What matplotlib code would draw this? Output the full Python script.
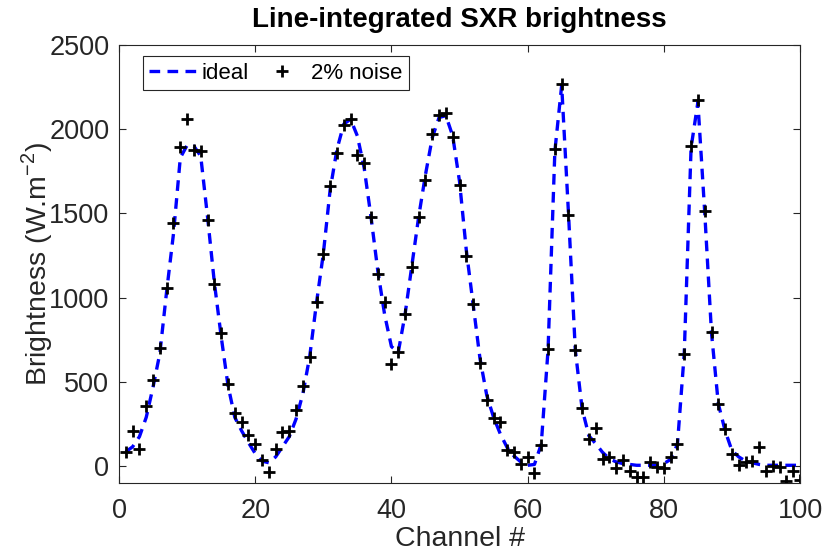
import numpy as np
import matplotlib
matplotlib.use("Agg")
import matplotlib.pyplot as plt

plt.rcParams["font.family"] = ["Liberation Sans", "DejaVu Sans"]
plt.rcParams["mathtext.fontset"] = "custom"
plt.rcParams["mathtext.rm"] = "Liberation Sans"

channels = np.arange(1, 101)

# ideal line-integrated brightness
ideal = [
    85, 115, 175, 290, 470, 670, 1040, 1380, 1830, 1905,
    1900, 1840, 1480, 1090, 770, 480, 290, 210, 140, 75,
    30, 20, 55, 115, 175, 280, 430, 650, 970, 1260,
    1640, 1880, 2030, 2060, 1960, 1770, 1480, 1160, 900, 710,
    675, 900, 1190, 1480, 1730, 1950, 2070, 2080, 1960, 1690,
    1280, 960, 640, 420, 290, 190, 110, 60, 25, 5,
    10, 130, 690, 1870, 2260, 1500, 690, 340, 180, 133,
    82, 44, 25, 15, 10, 5, 5, 5, 5, 15,
    40, 130, 670, 1890, 2160, 1510, 790, 370, 210, 92,
    55, 30, 20, 10, 5, 5, 5, 5, 5, 5,
]

# same channels with 2% noise added
noisy = [
    85, 208, 101, 356, 511, 699, 1059, 1445, 1896, 2060,
    1876, 1872, 1461, 1079, 792, 485, 313, 263, 184, 131,
    36, -34, 101, 200, 208, 332, 475, 649, 972, 1257,
    1663, 1857, 2028, 2059, 1847, 1801, 1477, 1140, 972, 604,
    675, 901, 1184, 1477, 1698, 1970, 2084, 2094, 1952, 1669,
    1247, 960, 610, 392, 283, 263, 95, 85, 10, 55,
    -43, 125, 693, 1880, 2267, 1490, 692, 344, 164, 226,
    42, 52, -11, 38, -31, -66, -66, 22, -7, -11,
    56, 131, 666, 1899, 2173, 1513, 796, 371, 220, 72,
    9, 22, 28, 111, -31, 3, -7, -90, -27, -82,
]

fig = plt.figure(figsize=(8.23, 5.59), dpi=100)
ax = fig.add_axes([0.1446, 0.136, 0.8275, 0.7835])

ax.plot(channels, ideal, color="#0000ff", linestyle=(0, (3.2, 2.2)),
        linewidth=2.4, label="ideal")
ax.plot(channels, noisy, linestyle="none", marker="+", color="black",
        markersize=8, markeredgewidth=2.0, label="2% noise")

ax.set_xlim(0, 100)
ax.set_ylim(-100, 2500)
ax.set_xticks(np.arange(0, 101, 20))
ax.set_yticks(np.arange(0, 2501, 500))

ax.tick_params(direction="in", top=True, right=True, labelsize=19.5,
               length=5, width=0.8, colors="#262626", pad=7)
ax.tick_params(axis="x", pad=11)
for sp in ax.spines.values():
    sp.set_color("#262626")
    sp.set_linewidth(0.8)

ax.set_xlabel("Channel #", fontsize=20.5, color="#262626", labelpad=1.5)
ax.set_ylabel("Brightness (W.m$^{-2}$)", fontsize=20.5, color="#262626", labelpad=-4)
ax.set_title("Line-integrated SXR brightness", fontsize=20, fontweight="bold",
             color="black", pad=13)

leg = ax.legend(loc="upper left", ncol=2, fontsize=16, frameon=True,
                fancybox=False, edgecolor="#262626", framealpha=1,
                handlelength=2.1, handletextpad=0.25, columnspacing=0.45,
                borderpad=0.3, borderaxespad=0,
                bbox_to_anchor=(0.0348, 0.975))
leg.get_frame().set_linewidth(0.8)

fig.savefig("out.png", dpi=100)
